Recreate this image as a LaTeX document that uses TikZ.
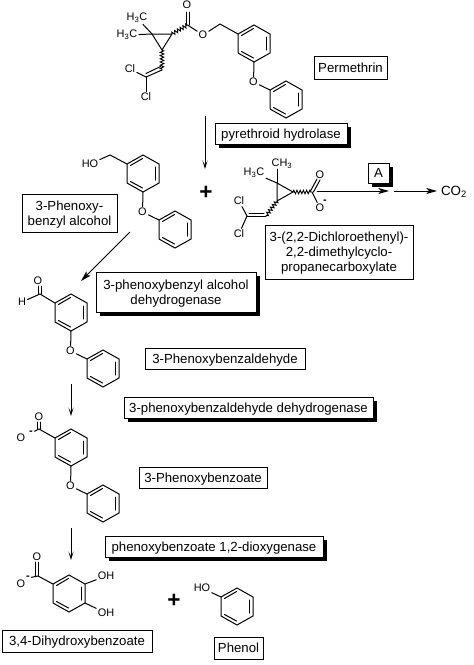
\documentclass[tikz,border=0pt]{standalone}
\usepackage{fontspec}
\setmainfont{Liberation Sans}
\usetikzlibrary{arrows.meta,shadows,decorations.pathmorphing}
\tikzset{
    pics/phenyl/.style={code={
        \coordinate (-a) at (0,0);
        \coordinate (-b) at (16,-9);
        \coordinate (-c) at (32,0);
        \coordinate (-d) at (32,19);
        \coordinate (-e) at (16,28);
        \coordinate (-f) at (0,19);
        \draw [bond] (-a) -- (-b) -- (-c) -- (-d) -- (-e) -- (-f) -- cycle;
        \draw [bond] (3.5,1.5) -- (15.5,-5.5);
        \draw [bond] (28,3) -- (28,16);
        \draw [bond] (15.5,24) -- (3.5,17.5);
    }},
    pics/phenoxy/.style={code={
        \pic (-ra) at (0,0) {phenyl};
        \pic (-rb) at (32,56) {phenyl};
        \node [atom] (-ox) at (15.5,48) {O};
        \draw [bond] (-ra-e) -- (-ox) -- (-rb-a);
    }}
}
\begin{document}
\begin{tikzpicture}[x=0.75pt, y=-0.75pt]
    % Styles
    \tikzstyle{bond} = [line width=0.75pt, line cap=round]
    \tikzstyle{wavy} = [line width=0.7pt, decorate, decoration={zigzag, amplitude=1.3pt, segment length=2.4pt}]
    \tikzstyle{atom} = [font=\fontsize{8.2}{9}\selectfont, inner sep=1pt]
    \tikzstyle{charge} = [font=\fontsize{8.2}{9}\selectfont\bfseries, inner sep=1pt]
    \tikzstyle{plus} = [font=\fontsize{17}{17}\selectfont\bfseries, inner sep=0pt]
    \tikzstyle{namebox} = [rectangle, draw, fill=white, line width=0.75pt, inner sep=0pt,
        align=center, font=\fontsize{9.9}{11.4}\selectfont, text depth=0pt]
    \tikzstyle{oneline} = [text height=8.75pt, text depth=2pt]
    \tikzstyle{enzyme} = [namebox, drop shadow={shadow xshift=3pt, shadow yshift=-3pt, fill=black, opacity=1}]
    \tikzstyle{arrow} = [line width=0.75pt, -{Stealth[length=6.5pt, width=4pt, inset=3.5pt]}]
    \tikzstyle{longarrow} = [line width=0.75pt, -{Stealth[length=8pt, width=4.5pt, inset=2pt]}]

    \useasboundingbox (0,0) rectangle (474,665);

    % Permethrin
    \pic (perm) at (238,34) {phenoxy};
    \node [atom] (permO1) at (187,5) {O};
    \node [atom] (permO2) at (203,35) {O};
    \node [atom] (permMe1) at (137,18) {H\textsubscript{3}C};
    \node [atom] (permMe2) at (127,35) {H\textsubscript{3}C};
    \node [atom] (permCl1) at (130,69) {Cl};
    \node [atom] (permCl2) at (146,97) {Cl};
    \coordinate (permC) at (187.5,25);
    \coordinate (permCH) at (220,24);
    \coordinate (permP1) at (152,34);
    \coordinate (permP2) at (172,34);
    \coordinate (permP3) at (162,50);
    \coordinate (permV1) at (162,70);
    \coordinate (permV2) at (146,77);
    \draw [bond] (permP1) -- (permP2) -- (permP3) -- cycle;
    \draw [bond] (permMe1) -- (permP1);
    \draw [bond] (permMe2) -- (permP1);
    \draw [wavy] (permP2) -- (permC);
    \draw [wavy] (permP3) -- (permV1);
    \draw [bond] (186,12) -- (186,25);
    \draw [bond] (189,12) -- (189,25);
    \draw [bond] (permC) -- (permO2) -- (permCH) -- (perm-ra-a);
    \draw [bond] (permV1) -- (permV2);
    \draw [bond] (160.5,66.5) -- (146,73.5);
    \draw [bond] (permV2) -- (permCl1);
    \draw [bond] (permV2) -- (permCl2);

    % 3-phenoxybenzyl alcohol
    \pic (alc) at (127,164) {phenoxy};
    \node [atom] (alcOH) at (90,164) {HO};
    \coordinate (alcCH) at (110,155);
    \draw [bond] (alcOH) -- (alcCH) -- (alc-ra-a);

    % Carboxylate fragment
    \node [atom] (carMe1) at (282,164) {CH\textsubscript{3}};
    \node [atom] (carMe2) at (254,173) {H\textsubscript{3}C};
    \node [atom] (carCl1) at (239,201) {Cl};
    \node [atom] (carCl2) at (239,234) {Cl};
    \node [atom] (carO1) at (320,175) {O};
    \node [atom] (carO2) at (320,208) {O};
    \node [charge] (carMinus) at (325,202) {-};
    \coordinate (carP1) at (277,183);
    \coordinate (carP2) at (293,192);
    \coordinate (carP3) at (277,201);
    \coordinate (carC) at (312,192);
    \coordinate (carV1) at (266,216);
    \coordinate (carV2) at (247,216);
    \draw [bond] (carP1) -- (carP2) -- (carP3) -- cycle;
    \draw [bond] (277,169) -- (carP1);
    \draw [bond] (carMe2) -- (carP1);
    \draw [wavy] (carP2) -- (carC);
    \draw [wavy] (carP3) -- (carV1);
    \draw [bond] (carV1) -- (carV2);
    \draw [bond] (264,213) -- (249,213);
    \draw [bond] (carV2) -- (carCl1);
    \draw [bond] (carV2) -- (carCl2);
    \draw [bond] (carC) -- (carO2);
    \draw [bond] (310.5,191) -- (317,179);
    \draw [bond] (313.5,192) -- (320,180);

    % 3-phenoxybenzaldehyde
    \pic (ald) at (55,303) {phenoxy};
    \node [atom] (aldO) at (38,281) {O};
    \node [atom] (aldH) at (22,302) {H};
    \coordinate (aldC) at (40,294);
    \draw [bond] (38.5,286) -- (38.5,294);
    \draw [bond] (41,286) -- (41,294);
    \draw [bond] (aldH) -- (aldC) -- (ald-ra-a);

    % 3-phenoxybenzoate
    \pic (ben) at (55,438) {phenoxy};
    \node [atom] (benO1) at (39,417) {O};
    \node [atom] (benO2) at (21,438) {O};
    \node [charge] (benMinus) at (31,433) {-};
    \coordinate (benC) at (39,429);
    \draw [bond] (37.5,422) -- (37.5,429);
    \draw [bond] (40,422) -- (40,429);
    \draw [bond] (benMinus) -- (benC) -- (ben-ra-a);

    % 3,4-dihydroxybenzoate
    \pic (dih) at (53,584) {phenyl};
    \node [atom] (dihO1) at (37,557) {O};
    \node [atom] (dihO2) at (21,584) {O};
    \node [charge] (dihMinus) at (28,578) {-};
    \node [atom] (dihOH1) at (106,576) {OH};
    \node [atom] (dihOH2) at (106,613) {OH};
    \coordinate (dihC) at (38,576);
    \draw [bond] (35.5,562) -- (35.5,576);
    \draw [bond] (38.5,562) -- (38.5,576);
    \draw [bond] (dihMinus) -- (dihC) -- (dih-a);
    \draw [bond] (dih-c) -- (dihOH1);
    \draw [bond] (dih-d) -- (dihOH2);

    % Phenol
    \pic (phe) at (221,597) {phenyl};
    \node [atom] (pheOH) at (202,588) {HO};
    \draw [bond] (pheOH) -- (phe-a);

    % Plus signs
    \node [plus] (plusA) at (206,193) {+};
    \node [plus] (plusB) at (174,601) {+};
    \node [font=\fontsize{10}{12}\selectfont, inner sep=0pt] (co2) at (454,192) {CO\textsubscript{2}};

    % Boxes
    \node [namebox, oneline, minimum width=54.75pt, minimum height=17.25pt] (permethrin) at (350.5,67.5) {Permethrin};
    \node [enzyme, oneline, minimum width=99pt, minimum height=15.75pt] (hydrolase) at (281,133.5) {pyrethroid hydrolase};
    \node [namebox, minimum width=71.25pt, minimum height=28.5pt] (alcohol) at (69.5,213) {3-Phenoxy-\\benzyl alcohol};
    \node [namebox, minimum width=111pt, minimum height=40.5pt] (carboxylate) at (339,252) {3-(2,2-Dichloroethenyl)-\\2,2-dimethylcyclo-\\propanecarboxylate};
    \node [enzyme, oneline, minimum width=15.75pt, minimum height=15pt] (enzA) at (378.5,173) {A};
    \node [enzyme, minimum width=120pt, minimum height=30pt] (alcdehyd) at (176,292) {3-phenoxybenzyl alcohol\\dehydrogenase};
    \node [namebox, oneline, minimum width=120pt, minimum height=15.75pt] (aldehyde) at (225,358.5) {3-Phenoxybenzaldehyde};
    \node [enzyme, oneline, minimum width=186.75pt, minimum height=15.75pt] (alddehyd) at (248.5,407.5) {3-phenoxybenzaldehyde dehydrogenase};
    \node [namebox, oneline, minimum width=96pt, minimum height=15.75pt] (benzoate) at (203,477.5) {3-Phenoxybenzoate};
    \node [enzyme, oneline, minimum width=163.5pt, minimum height=15.75pt] (dioxygenase) at (214,546.5) {phenoxybenzoate 1,2-dioxygenase};
    \node [namebox, oneline, minimum width=112.5pt, minimum height=16.5pt] (dihydroxy) at (77,641) {3,4-Dihydroxybenzoate};
    \node [namebox, oneline, minimum width=36.75pt, minimum height=16.5pt] (phenol) at (238.5,648) {Phenol};

    % Arrows
    \coordinate (a1s) at (205,116);
    \coordinate (a1e) at (205,169);
    \coordinate (a2s) at (130,232);
    \coordinate (a2e) at (81,281);
    \coordinate (a3s) at (71,384);
    \coordinate (a3e) at (71,416);
    \coordinate (a4s) at (71,528);
    \coordinate (a4e) at (71,560);
    \coordinate (a5s) at (317,191);
    \coordinate (a5e) at (389,191);
    \coordinate (a6s) at (394,191);
    \coordinate (a6e) at (437,191);
    \draw [arrow] (a1s) -- (a1e);
    \draw [longarrow] (a2s) -- (a2e);
    \draw [arrow] (a3s) -- (a3e);
    \draw [arrow] (a4s) -- (a4e);
    \draw [longarrow] (a5s) -- (a5e);
    \draw [longarrow] (a6s) -- (a6e);
\end{tikzpicture}
\end{document}
